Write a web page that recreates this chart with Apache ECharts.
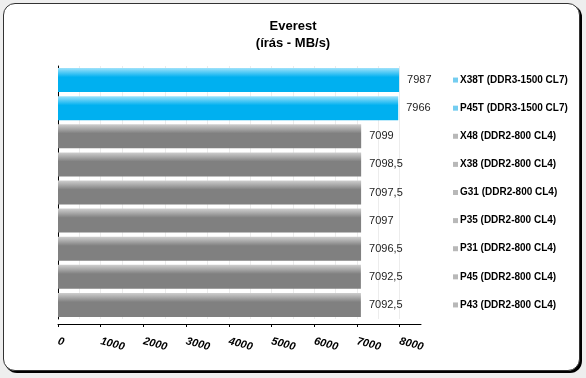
<!DOCTYPE html>
<html>
<head>
<meta charset="utf-8">
<script src="https://cdn.jsdelivr.net/npm/echarts@6/dist/echarts.min.js"></script>
<style>
  html, body { margin: 0; padding: 0; background: #eeeeee; }
  #frame {
    position: absolute; left: 3px; top: 3px; width: 575px; height: 366px;
    background: #fff; border: 1px solid #333; border-radius: 12px;
    box-shadow: 2px 2px 0 #000;
  }
  #main { position: absolute; left: 0; top: 0; width: 586px; height: 378px; }
</style>
</head>
<body>
<div id="frame"></div>
<div id="main"></div>
<script>
// chipset / memory names, top to bottom
const names = [
  'X38T (DDR3-1500 CL7)',
  'P45T (DDR3-1500 CL7)',
  'X48 (DDR2-800 CL4)',
  'X38 (DDR2-800 CL4)',
  'G31 (DDR2-800 CL4)',
  'P35 (DDR2-800 CL4)',
  'P31 (DDR2-800 CL4)',
  'P45 (DDR2-800 CL4)',
  'P43 (DDR2-800 CL4)'
]
// Everest write speed, MB/s
const values = [7987, 7966, 7099, 7098.5, 7097.5, 7097, 7096.5, 7092.5, 7092.5]
// DDR3 rows are blue, DDR2 rows gray
const isDdr3 = [true, true, false, false, false, false, false, false, false]
// x axis tick labels
const xTicks = [0, 1000, 2000, 3000, 4000, 5000, 6000, 7000, 8000]

const font = '"Liberation Sans", Arial, sans-serif'

function barColor (blue) {
  const top = blue ? '#9ee2fb' : '#cfcfcf'
  const base = blue ? '#00b0f0' : '#808080'
  return new echarts.graphic.LinearGradient(0, 0, 0, 1, [
    { offset: 0, color: top },
    { offset: 0.38, color: base },
    { offset: 1, color: base }
  ])
}

const myChart = echarts.init(document.getElementById('main'))
myChart.setOption({
  backgroundColor: 'transparent',
  animation: false,
  title: {
    text: 'Everest\n(írás - MB/s)',
    left: 'center',
    top: 13,
    textStyle: { fontFamily: font, fontSize: 13, fontWeight: 'bold', color: '#000', lineHeight: 17 }
  },
  grid: { left: 58, right: 165, top: 66, bottom: 59 },
  xAxis: {
    type: 'value',
    min: 0,
    max: 8500,
    interval: 1000,
    offset: 5,
    axisLine: { show: true, lineStyle: { color: '#000', width: 1 } },
    axisTick: { show: true, length: 3, customValues: xTicks, lineStyle: { color: '#000' } },
    axisLabel: {
      customValues: xTicks,
      formatter: v => String(v),
      rotate: -15,
      margin: 17,
      fontFamily: font,
      fontSize: 11,
      fontStyle: 'italic',
      fontWeight: 'bold',
      color: '#000'
    },
    splitLine: { show: true, lineStyle: { color: '#ececec' } },
    minorTick: { show: false, splitNumber: 2 },
    minorSplitLine: { show: true, lineStyle: { color: '#ececec' } }
  },
  yAxis: [
    {
      type: 'category',
      data: names,
      inverse: true,
      axisLine: { show: true, lineStyle: { color: '#000', width: 1 } },
      axisTick: { show: false },
      axisLabel: { show: false }
    },
    {
      // legend-like labels on the right, one per bar
      type: 'category',
      data: names,
      inverse: true,
      position: 'right',
      axisLine: { show: false },
      axisTick: { show: false },
      axisLabel: {
        margin: 32,
        align: 'left',
        formatter: (v, i) => '{' + (isDdr3[i] ? 'b' : 'g') + '|}{t|' + v + '}',
        rich: {
          b: { width: 5, height: 5, backgroundColor: '#74cdf0' },
          g: { width: 5, height: 5, backgroundColor: '#b8b8b8' },
          t: { fontFamily: font, fontSize: 10, fontWeight: 'bold', color: '#000', padding: [0, 0, 0, 2] }
        }
      }
    }
  ],
  series: [
    {
      type: 'bar',
      barWidth: 24,
      data: values.map((v, i) => ({ value: v, itemStyle: { color: barColor(isDdr3[i]) } })),
      label: {
        show: true,
        position: 'right',
        distance: 8,
        fontFamily: font,
        fontSize: 11,
        color: '#222',
        formatter: p => String(p.value).replace('.', ',')
      }
    }
  ]
})
</script>
</body>
</html>
